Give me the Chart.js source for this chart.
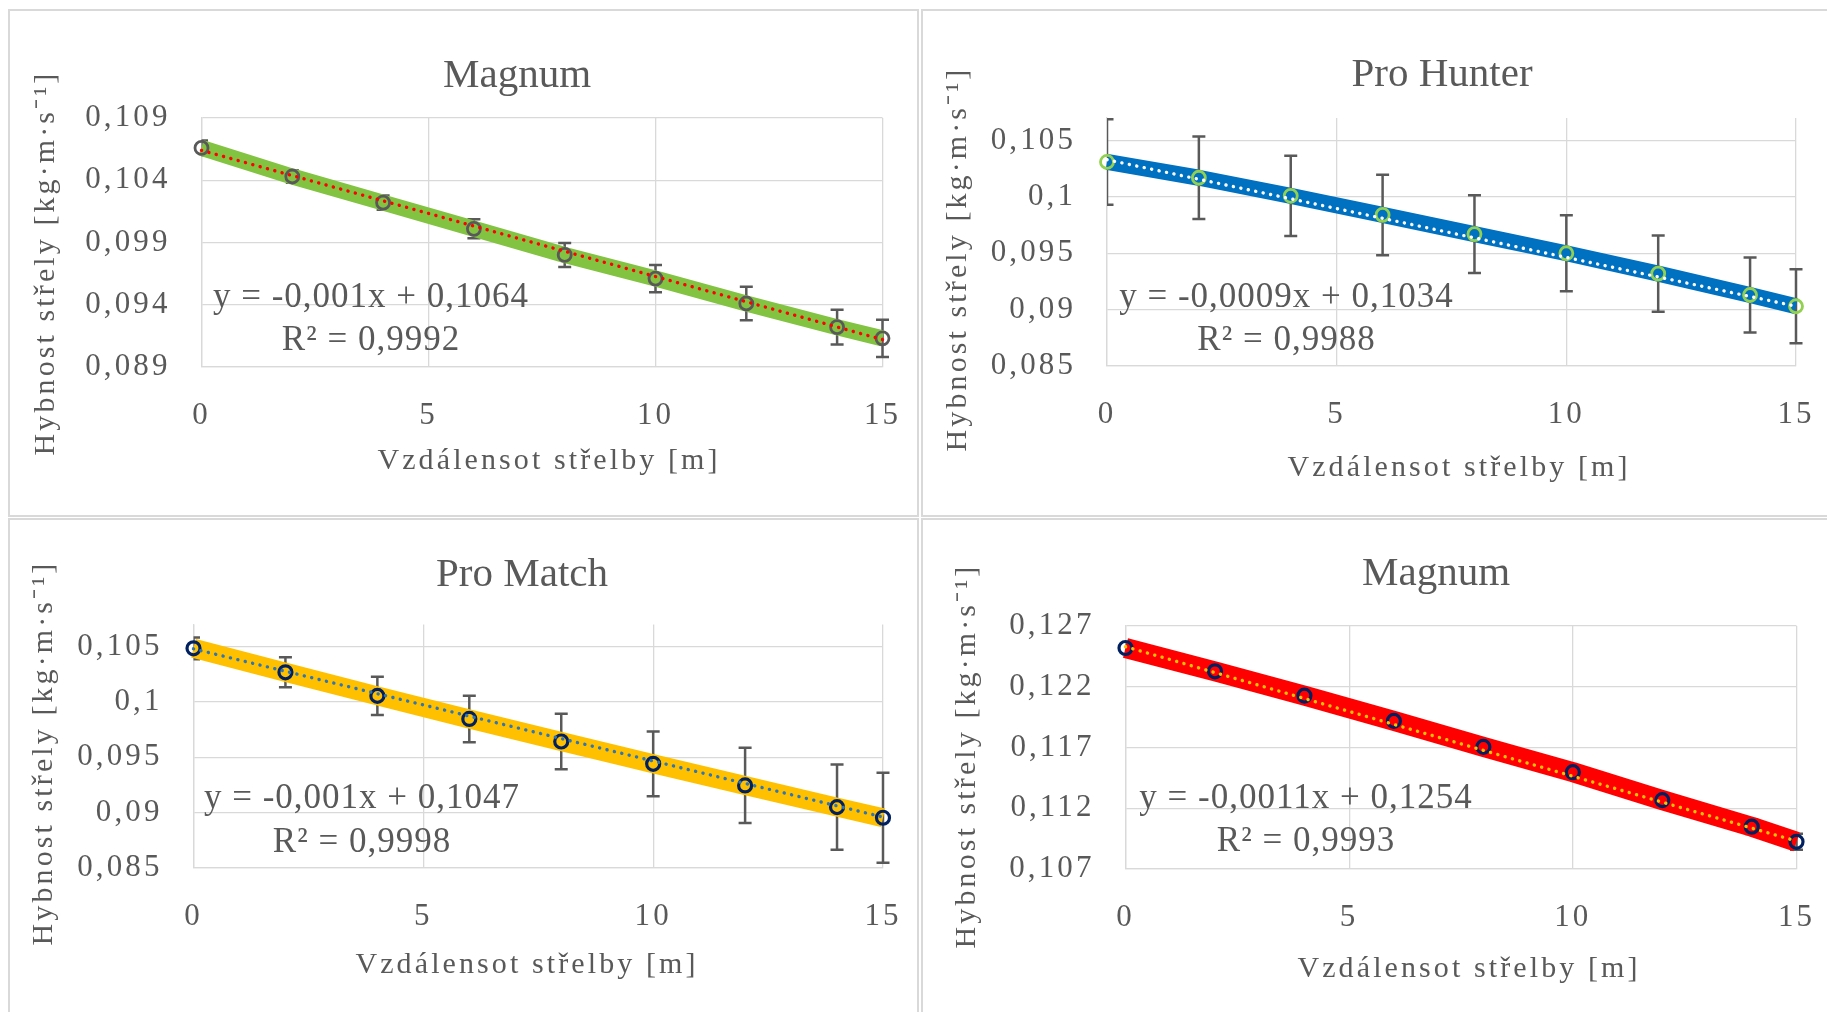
<!DOCTYPE html>
<html>
<head>
<meta charset="utf-8">
<script src="https://cdn.jsdelivr.net/npm/chart.js@4.4.0/dist/chart.umd.min.js"></script>
<style>
  html, body { margin: 0; padding: 0; background: #fff; }
  body { width: 1827px; height: 1012px; position: relative; overflow: hidden; }
  .frame { position: absolute; border: 2px solid #d9d9d9; box-sizing: border-box; }
  canvas { position: absolute; }
</style>
</head>
<body>
<div class="frame" style="left:8px;top:9px;width:911px;height:508px"></div>
<div class="frame" style="left:921px;top:9px;width:920px;height:508px"></div>
<div class="frame" style="left:8px;top:518px;width:911px;height:510px"></div>
<div class="frame" style="left:921px;top:518px;width:920px;height:510px"></div>

<canvas id="magnum1" width="907" height="504" style="left:10px;top:11px"></canvas>
<canvas id="proHunter" width="904" height="504" style="left:923px;top:11px"></canvas>
<canvas id="proMatch" width="907" height="492" style="left:10px;top:520px"></canvas>
<canvas id="magnum2" width="904" height="492" style="left:923px;top:520px"></canvas>

<script>
// vzdálenost střelby [m]
const distances = [0, 2, 4, 6, 8, 10, 12, 14, 15];
const xTicks = [0, 5, 10, 15];

// Magnum (zelená)
const magnum1Values = [0.1066, 0.1043, 0.1022, 0.1001, 0.0980, 0.0961, 0.0941, 0.0922, 0.0913];
const magnum1Errors = [0.0006, 0.0005, 0.00057, 0.00076, 0.00096, 0.0011, 0.00134, 0.0014, 0.0015];
const magnum1Trend = [0.1064, 0.0912];
const magnum1Ticks = [0.089, 0.094, 0.099, 0.104, 0.109];
const magnum1Eq = ["y = -0,001x + 0,1064", "R² = 0,9992"];

// Pro Hunter
const hunterValues = [0.1031, 0.1017, 0.1001, 0.0984, 0.0967, 0.0950, 0.0932, 0.0913, 0.0903];
const hunterErrors = [0.0038, 0.00366, 0.00356, 0.00357, 0.00344, 0.00338, 0.00338, 0.00332, 0.00328];
const hunterTrend = [0.1033, 0.0903];
const hunterTicks = [0.085, 0.09, 0.095, 0.1, 0.105];
const hunterEq = ["y = -0,0009x + 0,1034", "R² = 0,9988"];

// Pro Match
const matchValues = [0.10485, 0.10268, 0.10055, 0.09847, 0.09643, 0.09441, 0.09246, 0.0905, 0.08954];
const matchErrors = [0.00098, 0.00135, 0.00173, 0.0021, 0.0025, 0.00293, 0.0034, 0.00385, 0.00406];
const matchTrend = [0.1048, 0.0896];
const matchTicks = [0.085, 0.09, 0.095, 0.1, 0.105];
const matchEq = ["y = -0,001x + 0,1047", "R² = 0,9998"];

// Magnum (červená)
const magnum2Values = [0.12519, 0.12327, 0.12127, 0.11919, 0.11705, 0.11497, 0.11267, 0.11048, 0.10924];
const magnum2Errors = [0.0003, 0.0003, 0.0003, 0.0003, 0.0003, 0.0003, 0.0004, 0.0006, 0.00066];
const magnum2Trend = [0.1253, 0.1093];
const magnum2Ticks = [0.107, 0.112, 0.117, 0.122, 0.127];
const magnum2Eq = ["y = -0,0011x + 0,1254", "R² = 0,9993"];

const FONT = '"Liberation Serif", "Times New Roman", serif';
const TEXT = "#595959";
const GRID = "#d9d9d9";
const X_TITLE = "Vzdálensot střelby [m]";
const Y_TITLE = "Hybnost střely [kg·m·s⁻¹]";

// název grafu, popisky os, rovnice trendu a chybové úsečky
const panelText = {
  id: "panelText",
  beforeLayout(chart) {
    chart.ctx.letterSpacing = "3.1px";
  },
  beforeDraw(chart) {
    chart.ctx.letterSpacing = "3.1px";
  },
  beforeDatasetDraw(chart, args) {
    if (args.index !== 0) return;
    const ds = chart.data.datasets[0];
    const meta = chart.getDatasetMeta(0);
    const ys = chart.scales.y;
    const a = chart.chartArea;
    const ctx = chart.ctx;
    ctx.save();
    ctx.beginPath();
    ctx.rect(a.left, 0, chart.width - a.left, chart.height);
    ctx.clip();
    ctx.strokeStyle = TEXT;
    ctx.lineWidth = 2.5;
    meta.data.forEach((pt, i) => {
      const v = ds.data[i].y;
      const top = ys.getPixelForValue(v + ds.errors[i]);
      const bot = ys.getPixelForValue(v - ds.errors[i]);
      ctx.beginPath();
      ctx.moveTo(pt.x, top);
      ctx.lineTo(pt.x, bot);
      ctx.moveTo(pt.x - 6.5, top);
      ctx.lineTo(pt.x + 6.5, top);
      ctx.moveTo(pt.x - 6.5, bot);
      ctx.lineTo(pt.x + 6.5, bot);
      ctx.stroke();
    });
    ctx.restore();
  },
  afterDraw(chart, args, opts) {
    const ctx = chart.ctx;
    ctx.save();
    ctx.fillStyle = TEXT;
    ctx.textAlign = "center";
    ctx.textBaseline = "alphabetic";
    ctx.letterSpacing = "0px";
    ctx.font = "41px " + FONT;
    ctx.fillText(opts.title, opts.titleX, opts.titleY);
    ctx.letterSpacing = "1px";
    ctx.font = "35px " + FONT;
    ctx.fillText(opts.eq[0], opts.eqX, opts.eqY[0]);
    ctx.fillText(opts.eq[1], opts.eqX, opts.eqY[1]);

    ctx.letterSpacing = "3.1px";
    ctx.font = "30px " + FONT;
    ctx.textBaseline = "middle";
    ctx.fillText(X_TITLE, opts.xTitleX, opts.xTitleY);
    ctx.translate(opts.yTitleX, opts.yTitleY);
    ctx.rotate(-Math.PI / 2);
    ctx.fillText(Y_TITLE, 0, 0);
    ctx.restore();
  }
};

function makeChart(id, p) {
  return new Chart(document.getElementById(id), {
    type: "scatter",
    data: {
      datasets: [
        {
          label: p.title,
          data: distances.map((x, i) => ({ x: x, y: p.values[i] })),
          errors: p.errors,
          showLine: true,
          tension: 0,
          borderColor: p.lineColor,
          borderWidth: p.lineWidth,
          borderJoinStyle: "round",
          pointRadius: 6.5,
          pointBorderWidth: p.markerWidth,
          pointBorderColor: p.markerColor,
          pointBackgroundColor: "rgba(0,0,0,0)",
          clip: false,
          order: 2
        },
        {
          label: "Lineární trend",
          data: [{ x: distances[0], y: p.trend[0] }, { x: distances[distances.length - 1], y: p.trend[1] }],
          showLine: true,
          borderColor: p.trendColor,
          borderWidth: 3.4,
          borderDash: [0.1, 7.5],
          borderCapStyle: "round",
          pointRadius: 0,
          clip: false,
          order: 1
        }
      ]
    },
    options: {
      responsive: false,
      animation: false,
      devicePixelRatio: 1,
      events: [],
      layout: { padding: { left: 10, right: p.padR, top: p.padT, bottom: 10 } },
      plugins: {
        legend: { display: false },
        tooltip: { enabled: false },
        title: { display: false },
        panelText: {
          title: p.title, titleX: p.titleX, titleY: p.titleY,
          eq: p.eq, eqX: p.eqX, eqY: p.eqY,
          xTitleX: p.xTitleX, xTitleY: p.xTitleY,
          yTitleX: p.yTitleX, yTitleY: p.yTitleY
        }
      },
      scales: {
        x: {
          type: "linear",
          min: 0,
          max: 15,
          afterBuildTicks: (s) => { s.ticks = xTicks.map((v) => ({ value: v })); },
          afterFit: (s) => { s.height = p.xH; },
          grid: { color: GRID, lineWidth: 1.3, drawTicks: true, tickLength: 30, tickColor: "rgba(0,0,0,0)" },
          border: { color: GRID, width: 1.3 },
          ticks: { padding: 0, color: TEXT, font: { family: FONT, size: 31 } },
          title: { display: false }
        },
        y: {
          type: "linear",
          min: p.yMin,
          max: p.yMax,
          afterBuildTicks: (s) => { s.ticks = p.ticks.map((v) => ({ value: v })); },
          afterFit: (s) => { s.width = p.yW; },
          grid: { color: GRID, lineWidth: 1.3, drawTicks: false },
          border: { color: GRID, width: 1.3 },
          ticks: {
            padding: 31,
            color: TEXT,
            font: { family: FONT, size: 31 },
            callback: (v) => String(Number(v.toFixed(3))).replace(".", ",")
          },
          title: { display: false }
        }
      }
    },
    plugins: [panelText]
  });
}

makeChart("magnum1", {
  title: "Magnum", values: magnum1Values, errors: magnum1Errors, trend: magnum1Trend,
  ticks: magnum1Ticks, yMin: 0.089, yMax: 0.109, eq: magnum1Eq,
  lineColor: "#82C341", lineWidth: 16, markerColor: "#595959", markerWidth: 2.8, trendColor: "#FF0000",
  padR: 34.5, padT: 107, yW: 181.5, xH: 138,
  titleX: 507, titleY: 76, eqX: 361, eqY: [296, 339],
  xTitleX: 539, xTitleY: 450, yTitleX: 36, yTitleY: 252
});

makeChart("proHunter", {
  title: "Pro Hunter", values: hunterValues, errors: hunterErrors, trend: hunterTrend,
  ticks: hunterTicks, yMin: 0.085, yMax: 0.107, eq: hunterEq,
  lineColor: "#0070C0", lineWidth: 16, markerColor: "#92D050", markerWidth: 2.8, trendColor: "#FFFFFF",
  padR: 31, padT: 107, yW: 174, xH: 139,
  titleX: 519, titleY: 75, eqX: 363.5, eqY: [296, 339],
  xTitleX: 536, xTitleY: 457, yTitleX: 35, yTitleY: 248
});

makeChart("proMatch", {
  title: "Pro Match", values: matchValues, errors: matchErrors, trend: matchTrend,
  ticks: matchTicks, yMin: 0.085, yMax: 0.107, eq: matchEq,
  lineColor: "#FFC000", lineWidth: 19, markerColor: "#002060", markerWidth: 3.2, trendColor: "#2E75B6",
  padR: 34, padT: 104.5, yW: 173.5, xH: 134,
  titleX: 512, titleY: 66, eqX: 352, eqY: [288, 332],
  xTitleX: 517, xTitleY: 445, yTitleX: 34, yTitleY: 233
});

makeChart("magnum2", {
  title: "Magnum", values: magnum2Values, errors: magnum2Errors, trend: magnum2Trend,
  ticks: magnum2Ticks, yMin: 0.107, yMax: 0.127, eq: magnum2Eq,
  lineColor: "#FF0000", lineWidth: 20, markerColor: "#002060", markerWidth: 3.2, trendColor: "#FFC000",
  padR: 30.5, padT: 106, yW: 192.5, xH: 133,
  titleX: 513, titleY: 65, eqX: 383, eqY: [288, 331],
  xTitleX: 546, xTitleY: 449, yTitleX: 44, yTitleY: 236
});
</script>
</body>
</html>
